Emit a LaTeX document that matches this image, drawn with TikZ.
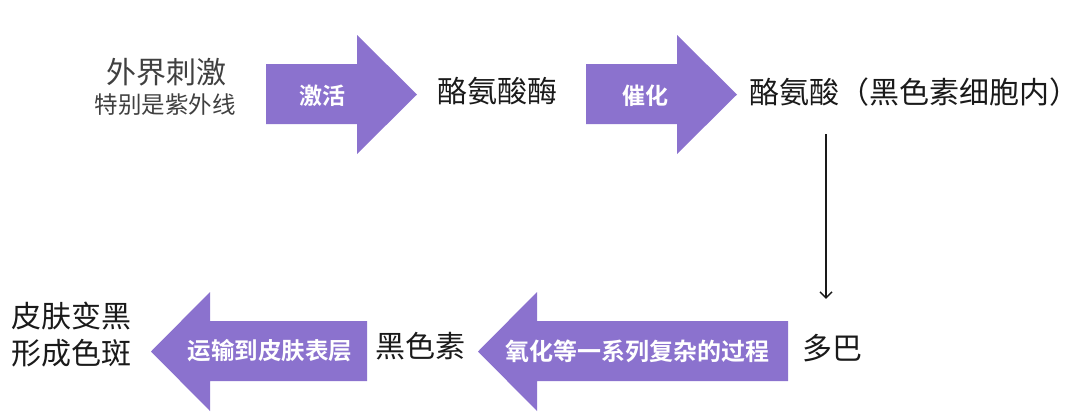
\documentclass[tikz,border=0pt]{standalone}
\usepackage{fontspec}
\setmainfont{Noto Sans CJK SC}[BoldFont={Noto Sans CJK SC Bold}]
\usetikzlibrary{arrows.meta, positioning}

\definecolor{arrowpurple}{RGB}{139,114,206}
\definecolor{textgray}{RGB}{64,64,64}
\definecolor{textblack}{RGB}{26,26,26}

\tikzset{
  bigarrow/.style={fill=arrowpurple, draw=none},
  arrowlabel/.style={text=white, font=\bfseries\fontsize{23}{28}\selectfont, inner sep=0pt},
  term/.style={text=textblack, font=\fontsize{30}{36}\selectfont, inner sep=0pt},
  thinarrow/.style={draw=textblack, line width=1.4pt, -{Straight Barb[length=6pt, width=12pt, line width=1.4pt]}}
}

\begin{document}
\begin{tikzpicture}[x=1pt, y=-1pt]
\useasboundingbox (0,0) rectangle (1080,416);

\node[term, text=textgray] (stim) at (166,72) {外界刺激};
\node[term, text=textgray, font=\fontsize{23.5}{28}\selectfont] (uv) at (165,105) {特别是紫外线};

\fill[bigarrow] (266,64) -- (357,64) -- (357,35) -- (417,94.5) -- (357,154) -- (357,124) -- (266,124) -- cycle;
\node[arrowlabel] (act) at (322,96) {激活};

\node[term] (enzyme) at (497,91) {酪氨酸酶};

\fill[bigarrow] (586,64) -- (677,64) -- (677,35) -- (737,94.5) -- (677,154) -- (677,124) -- (586,124) -- cycle;
\node[arrowlabel] (cat) at (645,96) {催化};

\node[term, anchor=west] (tyr) at (749,92) {酪氨酸（黑色素细胞内）};

\node[term] (dopa) at (832,348) {多巴};
\draw[thinarrow, shorten <=28pt] ([xshift=-6pt]tyr.south -| dopa.north) -- ([xshift=-6pt, yshift=35pt]dopa.north);

\fill[bigarrow] (788,321) -- (537,321) -- (537,292) -- (478,351.5) -- (537,411) -- (537,381) -- (788,381) -- cycle;
\node[arrowlabel, font=\bfseries\fontsize{24}{29}\selectfont] (oxid) at (637,351) {氧化等一系列复杂的过程};

\node[term] (mel) at (420,346) {黑色素};

\fill[bigarrow] (367,321) -- (210,321) -- (210,292) -- (151,351.5) -- (210,411) -- (210,381) -- (367,381) -- cycle;
\node[arrowlabel, font=\bfseries\fontsize{23.5}{29}\selectfont] (trans) at (270,351) {运输到皮肤表层};

\node[term, anchor=west, align=left, font=\fontsize{30}{37}\selectfont] (skin) at (11,335) {皮肤变黑\\形成色斑};

\end{tikzpicture}
\end{document}
